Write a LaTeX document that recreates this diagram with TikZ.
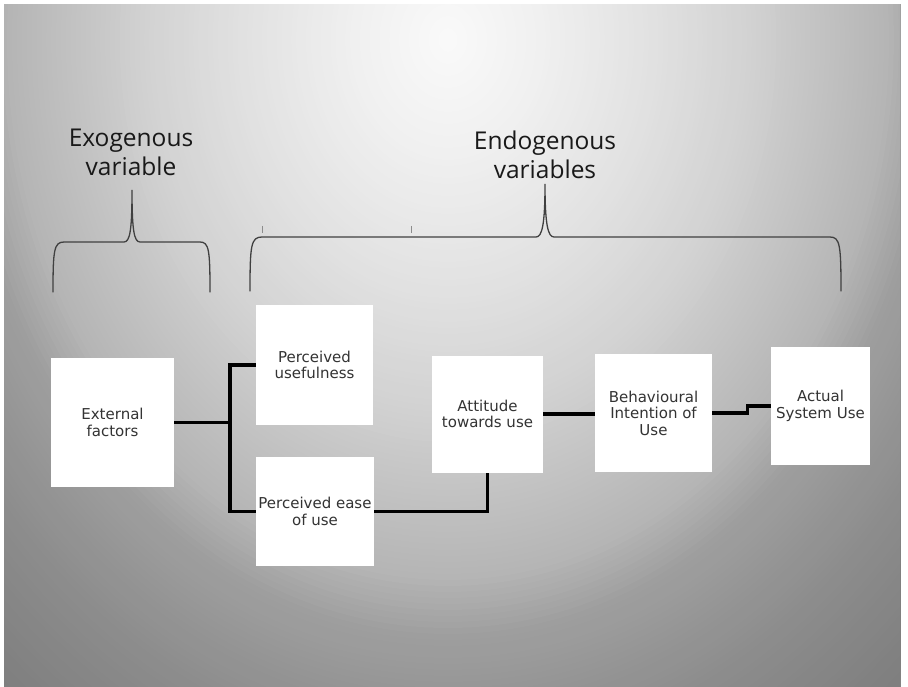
\documentclass[tikz,border=0pt]{standalone}
\usepackage{fontspec}
\newfontfamily\hdfont{Open Sans}
\newfontfamily\bxfont{DejaVu Sans}
\tikzset{
  box/.style={fill=white, inner sep=0pt, align=center, text=black!80,
    font=\bxfont\fontsize{15}{16.5}\selectfont},
  header/.style={align=center, text=black!90, inner sep=0pt,
    font=\hdfont\fontsize{24.5}{29}\selectfont},
  conn/.style={draw=black, line width=3.2pt},
  brace/.style={draw=black!75, line width=1.3pt, line cap=round}
}
\begin{document}
\begin{tikzpicture}[x=1pt,y=-1pt]
\useasboundingbox (0,0) rectangle (908,687);
\fill[white] (0,0) rectangle (908,687);
\begin{scope}
  \clip (4,5) rectangle (900,686);
  \foreach \r in {80,79.5,...,0.5} {
    \pgfmathsetmacro{\g}{\r<10 ? 0.98-0.004*\r : (\r<20 ? 0.94-0.005*(\r-10) : (\r<30 ? 0.89-0.006*(\r-20) : (\r<40 ? 0.83-0.008*(\r-30) : (\r<45 ? 0.75-0.008*(\r-40) : (\r<50 ? 0.71-0.018*(\r-45) : (\r<60 ? 0.62-0.007*(\r-50) : (\r<70 ? 0.55-0.005*(\r-60) : 0.50-0.003*(\r-70))))))))}
    \definecolor{bgc}{gray}{\g}
    \fill[bgc] (448,40) ellipse [x radius={9.8*\r pt}, y radius={12*\r pt}];
  }
\end{scope}

% headers
\node[header] (exo) at (131,152) {Exogenous\\variable};
\node[header] (endo) at (545,155) {Endogenous\\variables};

% braces
\draw[brace] (53,292) .. controls (53,250) and (54,242) .. (64,242)
  -- (124,242) .. controls (130,242) and (132,230) .. (132,190)
  .. controls (132,230) and (134,242) .. (140,242)
  -- (200,242) .. controls (209,242) and (210,250) .. (210,292);
\draw[brace] (250,291) .. controls (250,245) and (251,237) .. (262,237)
  -- (536,237) .. controls (542,237) and (545,225) .. (545,184)
  .. controls (545,225) and (548,237) .. (554,237)
  -- (830,237) .. controls (840,237) and (841,245) .. (841,291);
\draw[black!45, line width=0.6pt] (262,226) -- (262,233);
\draw[black!45, line width=0.6pt] (411,226) -- (411,233);

% boxes
\node[box, minimum width=123pt, minimum height=129pt] (ext) at (112.5,422.5) {External\\factors};
\node[box, minimum width=117pt, minimum height=120pt] (pu) at (314.5,365) {Perceived\\usefulness};
\node[box, minimum width=118pt, minimum height=109pt] (peu) at (315,511.5) {Perceived ease\\of use};
\node[box, minimum width=111pt, minimum height=117pt] (att) at (487.5,414) {Attitude\\towards use};
\node[box, minimum width=117pt, minimum height=118pt] (bi) at (653.5,413) {Behavioural\\Intention of\\Use};
\node[box, minimum width=99pt, minimum height=118pt] (asu) at (820.5,406) {Actual\\System Use};

% connectors
\coordinate (jx) at (230,422.5);
\draw[conn] (ext.east) -- (jx);
\draw[conn] (pu.west) -| (jx) |- (peu.west);
\draw[conn] (peu.east) -| (att.south);
\draw[conn] (att.east) -- (att.east -| bi.west);
\draw[conn] (bi.east) -- ([xshift=35pt]bi.east) |- (asu.west);
\end{tikzpicture}
\end{document}
